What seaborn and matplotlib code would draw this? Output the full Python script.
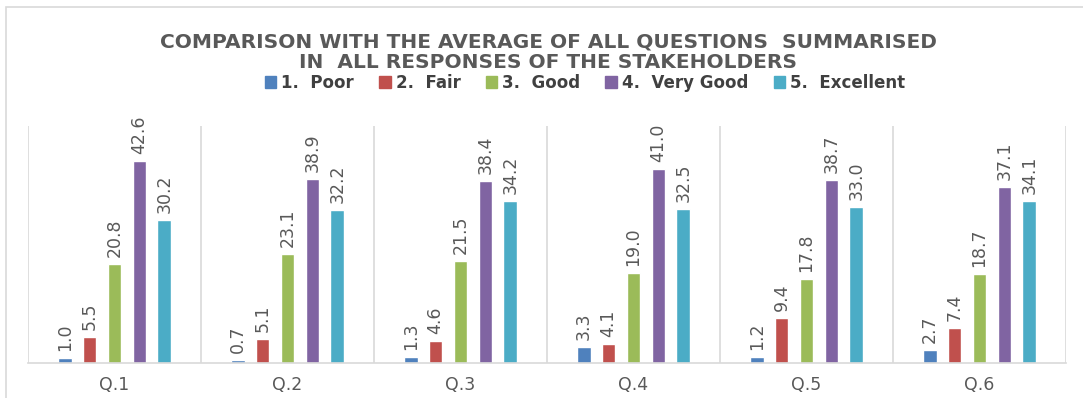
import matplotlib
matplotlib.use("Agg")
import matplotlib.pyplot as plt
import seaborn as sns
import pandas as pd
from matplotlib.patches import Rectangle

questions = ["Q.1", "Q.2", "Q.3", "Q.4", "Q.5", "Q.6"]
ratings = ["1.  Poor", "2.  Fair", "3.  Good", "4.  Very Good", "5.  Excellent"]
poor = [1.0, 0.7, 1.3, 3.3, 1.2, 2.7]
fair = [5.5, 5.1, 4.6, 4.1, 9.4, 7.4]
good = [20.8, 23.1, 21.5, 19.0, 17.8, 18.7]
very_good = [42.6, 38.9, 38.4, 41.0, 38.7, 37.1]
excellent = [30.2, 32.2, 34.2, 32.5, 33.0, 34.1]
colors = ["#4F81BD", "#C0504D", "#9BBB59", "#8064A2", "#4BACC6"]

series = [poor, fair, good, very_good, excellent]
rows = []
for r, vals in zip(ratings, series):
    for q, v in zip(questions, vals):
        rows.append({"Question": q, "Rating": r, "Value": v})
df = pd.DataFrame(rows)

sns.set_style("white")
fig = plt.figure(figsize=(10.83, 3.98), dpi=100)
ax = fig.add_axes([28/1083, 35/398, (1066-28)/1083, (363-126)/398])

sns.barplot(data=df, x="Question", y="Value", hue="Rating", palette=colors,
            saturation=1, width=0.72, gap=0.45, ax=ax, legend=False, errorbar=None)

for cont in ax.containers:
    ax.bar_label(cont, fmt="%.1f", rotation=90, padding=5, color="#595959", fontsize=12.5)

ax.set_ylim(0, 50)
ax.set_xlim(-0.5, 5.5)
ax.set_xlabel("")
ax.set_ylabel("")
ax.set_yticks([])
ax.tick_params(axis="x", length=0, labelsize=12.5, labelcolor="#595959", pad=9)
for s in ["top", "left", "right"]:
    ax.spines[s].set_visible(False)
ax.spines["bottom"].set_color("#d9d9d9")
ax.spines["bottom"].set_linewidth(1.2)
for b in [-0.5, 0.5, 1.5, 2.5, 3.5, 4.5, 5.5]:
    ax.axvline(b, color="#d9d9d9", lw=1.2, zorder=0)

# chart border
fig.patches.append(Rectangle((6/1083, -0.1), 1.2, 1 - 7/398 + 0.1, transform=fig.transFigure,
                             fill=False, edgecolor="#d9d9d9", lw=1.2))

fig.text(548/1083, 1 - 42/398, "COMPARISON WITH THE AVERAGE OF ALL QUESTIONS  SUMMARISED",
         ha="center", va="center", fontsize=14.5, fontweight="bold", color="#595959")
fig.text(548/1083, 1 - 63/398, "IN  ALL RESPONSES OF THE STAKEHOLDERS",
         ha="center", va="center", fontsize=14.5, fontweight="bold", color="#595959")

handles = [Rectangle((0, 0), 1, 1, color=c) for c in colors]
fig.legend(handles, ratings, loc="center", bbox_to_anchor=(585/1083, 1 - 83/398), ncol=5,
           frameon=False, prop={"weight": "bold", "size": 12}, labelcolor="#404040",
           handlelength=0.7, handleheight=0.7, handletextpad=0.3, columnspacing=1.5)

fig.savefig("out.png", dpi=100)
